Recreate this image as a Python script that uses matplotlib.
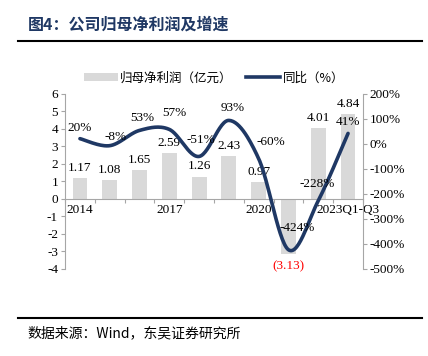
import matplotlib
matplotlib.use("Agg")
import matplotlib.pyplot as plt
import numpy as np
from matplotlib.lines import Line2D
from matplotlib.patches import Patch

plt.rcParams["font.family"] = ["Liberation Serif", "Noto Sans CJK SC", "DejaVu Sans"]
plt.rcParams["axes.unicode_minus"] = False

# ── data ──────────────────────────────────────────────────────────────
categories = ["2014", "2015", "2016", "2017", "2018", "2019", "2020", "2021", "2022", "2023Q1-Q3"]
profit = [1.17, 1.08, 1.65, 2.59, 1.26, 2.43, 0.97, -3.13, 4.01, 4.84]
growth = [20, -8, 53, 57, -51, 93, -60, -424, -228, 41]
shown_xlabels = {0: "2014", 3: "2017", 6: "2020", 9: "2023Q1-Q3"}

# label nudges (points) for the growth labels
growth_offsets = [(0, 8), (4, 6), (2, 9), (4, 12), (1, 12), (3, 9), (9, 12), (6, 16), (-1, 12), (0, 8)]

BAR = "#d9d9d9"
NAVY = "#1f3864"
SPINE = "#a6a6a6"


def smooth(xs, ys, n=30):
    """Bezier smoothing through the points (like Excel's smoothed line)."""
    xs = np.asarray(xs, float)
    ys = np.asarray(ys, float)
    px = np.concatenate([[xs[0]], xs, [xs[-1]]])
    py = np.concatenate([[ys[0]], ys, [ys[-1]]])
    ox, oy = [], []
    t = np.linspace(0, 1, n)
    for i in range(1, len(px) - 2):
        for arr, out in ((px, ox), (py, oy)):
            p0, p1, p2, p3 = arr[i - 1], arr[i], arr[i + 1], arr[i + 2]
            c1 = p1 + (p2 - p0) / 6
            c2 = p2 - (p3 - p1) / 6
            out.extend((1 - t) ** 3 * p1 + 3 * (1 - t) ** 2 * t * c1
                       + 3 * (1 - t) * t ** 2 * c2 + t ** 3 * p2)
    return ox, oy


fig = plt.figure(figsize=(4.28, 3.56), dpi=100)
ax = fig.add_axes([0.152, 0.245, 0.696, 0.492])
ax2 = ax.twinx()

x = np.arange(len(categories))
ax.bar(x, profit, width=0.5, color=BAR, zorder=2)
ax.set_xlim(-0.5, len(categories) - 0.5)
ax.set_ylim(-4, 6)
ax.set_yticks(range(-4, 7))

for xi, v in zip(x, profit):
    if v >= 0:
        ax.annotate(f"{v:.2f}", (xi, v), xytext=(0, 3), textcoords="offset points",
                    ha="center", va="bottom", fontsize=9.5, color="black")
    else:
        ax.annotate(f"({abs(v):.2f})", (xi, v), xytext=(0, -5), textcoords="offset points",
                    ha="center", va="top", fontsize=9.5, color="#ff0000")

sx, sy = smooth(x, growth)
ax2.plot(sx, sy, color=NAVY, linewidth=2.6, solid_capstyle="round", zorder=3)
ax2.set_ylim(-500, 200)
ax2.set_yticks(range(-500, 201, 100))
ax2.set_yticklabels([f"{v}%" for v in range(-500, 201, 100)])

for xi, g, (dx, dy) in zip(x, growth, growth_offsets):
    ax2.annotate(f"{g}%", (xi, g), xytext=(dx, dy), textcoords="offset points",
                 ha="center", va="center", fontsize=9.5, color="black")

# spines & ticks
ax.spines["top"].set_visible(False)
ax2.spines["top"].set_visible(False)
ax2.spines["bottom"].set_visible(False)
ax.spines["right"].set_visible(False)
ax2.spines["left"].set_visible(False)
ax.spines["bottom"].set_position(("data", 0))
for s in (ax.spines["left"], ax.spines["bottom"], ax2.spines["right"]):
    s.set_color(SPINE)
    s.set_linewidth(0.8)

ax.set_xticks(np.arange(-0.5, len(categories), 1.0))
ax.set_xticklabels([])
ax.set_xticks(list(shown_xlabels.keys()), minor=True)
ax.set_xticklabels(list(shown_xlabels.values()), minor=True)
ax.tick_params(axis="x", which="major", direction="out", length=3, color=SPINE)
ax.tick_params(axis="x", which="minor", length=0, pad=4, labelsize=9.5)
ax.tick_params(axis="y", direction="out", length=3, color=SPINE, labelsize=9.5, pad=2)
ax2.tick_params(axis="y", direction="out", length=3, color=SPINE, labelsize=9.5, pad=2)

# legend
handles = [Patch(facecolor=BAR, edgecolor="none"),
           Line2D([], [], color=NAVY, linewidth=2.6)]
fig.legend(handles, ["归母净利润（亿元）", "同比（%）"], loc="center",
           bbox_to_anchor=(0.5, 0.781), ncol=2, frameon=False,
           prop={"family": ["Noto Sans CJK SC"], "size": 9},
           handlelength=2.7, handleheight=0.6, columnspacing=1.1, handletextpad=0.2)

# title, rules, source
fig.text(0.065, 0.93, "图4：公司归母净利润及增速", fontsize=11.5, fontweight="bold",
         color=NAVY, va="center", ha="left", family=["Noto Sans CJK SC"])
fig.add_artist(Line2D([0.043, 0.985], [1 - 41 / 356] * 2, color="black", linewidth=1.5))
fig.add_artist(Line2D([0.043, 0.985], [1 - 318 / 356] * 2, color="black", linewidth=1.5))
fig.text(0.065, 1 - 333 / 356, "数据来源：Wind，东吴证券研究所", fontsize=10,
         va="center", ha="left", family=["Noto Sans CJK SC", "Liberation Serif"])

fig.savefig("out.png", dpi=100)
